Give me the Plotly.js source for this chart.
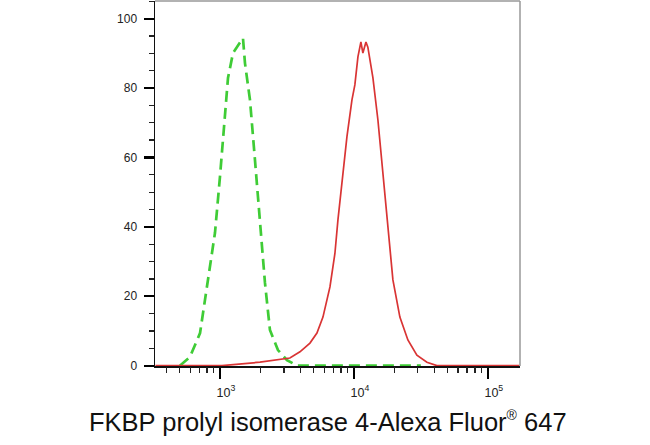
<!DOCTYPE html>
<html>
<head>
<meta charset="utf-8">
<script src="https://cdn.plot.ly/plotly-3.0.1.min.js"></script>
<style>html,body{margin:0;padding:0;background:#fff;}#chart{width:650px;height:445px;}</style>
</head>
<body>
<div id="chart"></div>
<script>
// Isotype control (green dashed)
const controlX = [502, 597, 710, 813, 918, 1000, 1089, 1148, 1251, 1410, 1485, 1537, 1675, 1825, 1989, 2167, 2361, 2710, 3163, 3757, 31600];
const controlY = [0, 2.5, 9.4, 23.9, 38.3, 54.4, 71.7, 82.9, 90.1, 93.3, 94.4, 87.2, 76.6, 59.3, 42.0, 23.9, 10.3, 4.5, 1.6, 0, 0];
// FKBP4 stained sample (red solid)
const sampleX = [330, 1035, 1990, 3327, 3955, 4698, 5297, 5873, 6625, 7218, 7600, 8281, 8872, 9670, 10165, 10715, 11280, 11670, 12300, 12710, 13860, 15110, 16460, 17940, 19550, 22040, 25290, 29520, 35080, 41610, 172000];
const sampleY = [0, 0, 1.0, 2.2, 4.0, 6.5, 9.4, 14.0, 22.7, 32.4, 42.0, 56.4, 66.0, 76.6, 80.9, 89.0, 93.3, 90.1, 93.3, 91.8, 83.0, 70.8, 55.5, 40.0, 24.7, 14.0, 7.4, 3.0, 1.0, 0, 0];
const xMajorTicks = [1000, 10000, 100000];
const xTickText = ['10<sup>3</sup>', '10<sup>4</sup>', '10<sup>5</sup>'];
const xMinorTicks = [400,500,600,700,800,900,2000,3000,4000,5000,6000,7000,8000,9000,20000,30000,40000,50000,60000,70000,80000,90000];
const yMajorTicks = [0, 20, 40, 60, 80, 100];
const yTickText = ['0', '20', '40', '60', '80', '100'];
const yMinorTicks = [5,10,15,25,30,35,45,50,55,65,70,75,85,90,95,105];
const xTitle = 'FKBP prolyl isomerase 4-Alexa Fluor<sup><span style="font-size:14px">®</span></sup> 647';

const xRange = [2.515, 5.24];
const yRange = [-0.1, 105.1];

const traces = [
  {x: controlX, y: controlY, mode: 'lines', type: 'scatter',
   line: {color: '#3fcc36', width: 2.7, dash: '11px,6px'}, hoverinfo: 'skip'},
  {x: sampleX, y: sampleY, mode: 'lines', type: 'scatter',
   line: {color: '#d93434', width: 1.7}, hoverinfo: 'skip'},
  // empty trace so the minor-tick overlay axes get drawn
  {x: [], y: [], xaxis: 'x2', yaxis: 'y2', mode: 'lines', type: 'scatter', hoverinfo: 'skip'}
];

const layout = {
  width: 650, height: 445,
  margin: {l: 155, r: 130, t: 1, b: 79, pad: 0},
  paper_bgcolor: '#fff', plot_bgcolor: '#fff',
  showlegend: false,
  font: {family: 'Liberation Sans, Arial, sans-serif', color: '#222'},
  xaxis: {
    type: 'log', range: xRange,
    tickmode: 'array', tickvals: xMajorTicks, ticktext: xTickText,
    ticks: 'outside', ticklen: 11, tickwidth: 2.2, tickcolor: '#000',
    tickfont: {size: 12.5, color: '#222'},
    ticklabelshift: 6, ticklabelstandoff: 3,
    showline: true, linecolor: '#111', linewidth: 1.5,
    showgrid: false, zeroline: false
  },
  xaxis2: {
    type: 'log', range: xRange, overlaying: 'x', anchor: 'y2', side: 'bottom',
    tickmode: 'array', tickvals: xMinorTicks, showticklabels: false,
    ticks: 'outside', ticklen: 6, tickwidth: 1.3, tickcolor: '#222',
    showline: false, showgrid: false, zeroline: false
  },
  yaxis: {
    range: yRange,
    tickmode: 'array', tickvals: yMajorTicks, ticktext: yTickText,
    ticks: 'outside', ticklen: 10, tickwidth: 2.2, tickcolor: '#000',
    tickfont: {size: 12, color: '#222'},
    ticklabelstandoff: 4,
    showline: true, linecolor: '#111', linewidth: 1.5,
    showgrid: false, zeroline: false
  },
  yaxis2: {
    range: yRange, overlaying: 'y', anchor: 'x2', side: 'left',
    tickmode: 'array', tickvals: yMinorTicks, showticklabels: false,
    ticks: 'outside', ticklen: 5, tickwidth: 1.3, tickcolor: '#222',
    showline: false, showgrid: false, zeroline: false
  },
  shapes: [
    {type: 'line', xref: 'paper', yref: 'paper', x0: 0, x1: 1, y0: 1, y1: 1, line: {color: '#999', width: 1.5}},
    {type: 'line', xref: 'paper', yref: 'paper', x0: 1, x1: 1, y0: 0, y1: 1, line: {color: '#999', width: 1.5}}
  ],
  annotations: [
    {text: xTitle, xref: 'paper', yref: 'paper', x: 0.474, y: -0.108, xanchor: 'center', yanchor: 'top',
     showarrow: false, font: {size: 25.5, color: '#111', family: 'Liberation Sans, Arial, sans-serif'}}
  ]
};

Plotly.newPlot('chart', traces, layout, {staticPlot: true, displayModeBar: false});
</script>
</body>
</html>
